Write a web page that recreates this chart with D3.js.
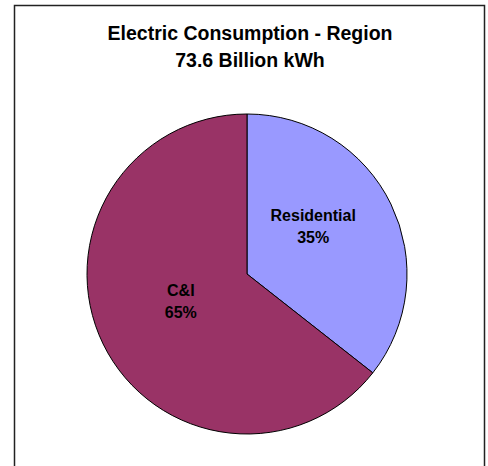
<!DOCTYPE html>
<html><head><meta charset="utf-8">
<script src="https://cdn.jsdelivr.net/npm/d3@7/dist/d3.min.js"></script>
<style>body{margin:0;background:#fff;}</style>
</head><body>
<svg id="c" width="488" height="466"></svg>
<script>
const titleLines = ["Electric Consumption - Region", "73.6 Billion kWh"];
const categories = ["Residential", "C&I"];
const values = [35.6, 64.4];
const percentLabels = ["35%", "65%"];
const colors = ["#9999FF", "#993366"];

const svg = d3.select("#c");
svg.append("rect").attr("x", 14.5).attr("y", 5.5).attr("width", 470).attr("height", 475)
  .attr("fill", "#fff").attr("stroke", "#222").attr("stroke-width", 1.5);

svg.selectAll("text.title").data(titleLines).join("text")
  .attr("x", 250).attr("y", (d, i) => 40 + i * 27)
  .attr("text-anchor", "middle")
  .style("font-family", "Liberation Sans, Arial, sans-serif")
  .style("font-weight", "bold").style("font-size", "19.5px").attr("fill", "#000")
  .text(d => d);

const cx = 247, cy = 274, r = 160;
const data = categories.map((c, i) => ({cat: c, value: values[i], label: percentLabels[i], color: colors[i]}));
const pie = d3.pie().value(d => d.value).sort(null);
const arc = d3.arc().innerRadius(0).outerRadius(r);
const g = svg.append("g").attr("transform", `translate(${cx},${cy})`);
const arcs = pie(data);
g.selectAll("path").data(arcs).join("path")
  .attr("d", arc).attr("fill", d => d.data.color)
  .attr("stroke", "#000").attr("stroke-width", 1);

const labelArc = d3.arc().innerRadius(r * 0.46).outerRadius(r * 0.46);
const lg = g.selectAll("g.lbl").data(arcs).join("g")
  .attr("transform", d => { const [x, y] = labelArc.centroid(d); return `translate(${x},${y})`; });
const off = d => labelArc.centroid(d)[1] < 0 ? -21 : -10;
const font = s => s.style("font-family", "Liberation Sans, Arial, sans-serif")
  .style("font-weight", "bold").style("font-size", "16px").attr("fill", "#000");
lg.append("text").attr("text-anchor", "middle").attr("y", d => off(d))
  .call(font).text(d => d.data.cat);
lg.append("text").attr("text-anchor", "middle").attr("y", d => off(d) + 22)
  .call(font).text(d => d.data.label);
</script>
</body></html>
